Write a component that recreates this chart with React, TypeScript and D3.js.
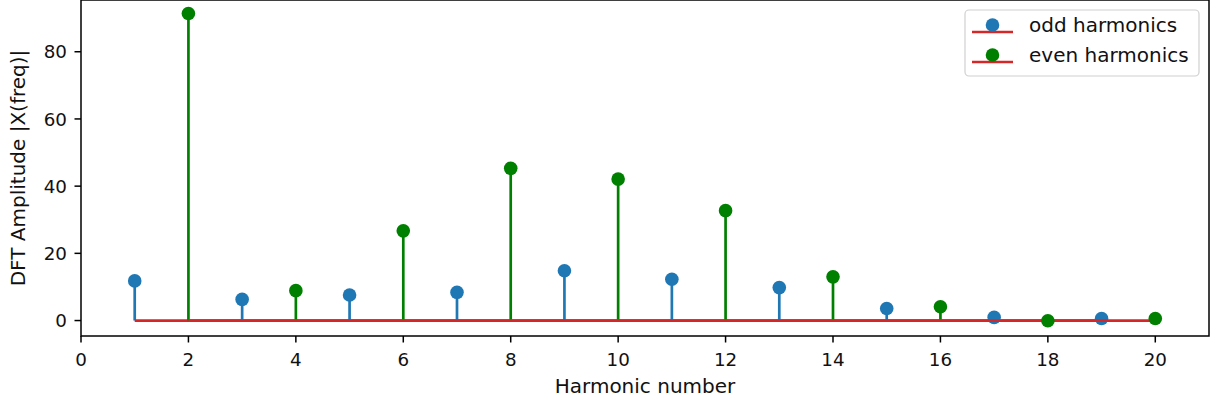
import React from "react";
import * as d3 from "d3";

const oddHarmonics = [1, 3, 5, 7, 9, 11, 13, 15, 17, 19];
const oddValues = [11.8, 6.3, 7.6, 8.4, 14.8, 12.3, 9.8, 3.6, 0.95, 0.6];
const evenHarmonics = [2, 4, 6, 8, 10, 12, 14, 16, 18, 20];
const evenValues = [91.4, 8.9, 26.7, 45.3, 42.1, 32.7, 13.0, 4.1, -0.05, 0.6];
const xTicks = [0, 2, 4, 6, 8, 10, 12, 14, 16, 18, 20];
const yTicks = [0, 20, 40, 60, 80];
const seriesNames = ["odd harmonics", "even harmonics"];

const W = 1214;
const H = 405;
const left = 81;
const right = 1209;
const top = 0;
const bottom = 336;

const BLUE = "#1f77b4";
const GREEN = "#008000";
const RED = "#d62728";
const TEXT = "#111";
const FONT = "'DejaVu Sans', sans-serif";

export default function App() {
  const x = d3.scaleLinear().domain([0, 21]).range([left, right]);
  const y = d3.scaleLinear().domain([-4.6, 95.4]).range([bottom, top]);

  const stemGroup = (xs: number[], vs: number[], color: string) => {
    const pts = xs.map((h, i) => [h, vs[i]] as [number, number]);
    const baseline = d3.line()([
      [x(xs[0]), y(0)],
      [x(xs[xs.length - 1]), y(0)],
    ]);
    return (
      <g>
        {pts.map(([h, v], i) => (
          <line key={"s" + i} x1={x(h)} x2={x(h)} y1={y(0)} y2={y(v)} stroke={color} strokeWidth={2.7} />
        ))}
        <path d={baseline || ""} stroke={RED} strokeWidth={2.7} fill="none" />
        {pts.map(([h, v], i) => (
          <circle key={"m" + i} cx={x(h)} cy={y(v)} r={6.8} fill={color} />
        ))}
      </g>
    );
  };

  const legendColors = [BLUE, GREEN];

  return (
    <svg width={W} height={H} style={{ position: "absolute", left: 0, top: 0 }} fontFamily={FONT}>
      <rect x={0} y={0} width={W} height={H} fill="#fff" />
      <defs>
        <clipPath id="plotclip">
          <rect x={left} y={top} width={right - left} height={bottom - top} />
        </clipPath>
      </defs>
      <g clipPath="url(#plotclip)">
        {stemGroup(oddHarmonics, oddValues, BLUE)}
        {stemGroup(evenHarmonics, evenValues, GREEN)}
      </g>
      <rect x={left} y={top} width={right - left} height={bottom - top} fill="none" stroke="#000" strokeWidth={1.5} />
      {xTicks.map((t) => (
        <g key={"xt" + t}>
          <line x1={x(t)} x2={x(t)} y1={bottom} y2={bottom + 6.5} stroke="#000" strokeWidth={1.5} />
          <text x={x(t)} y={366} textAnchor="middle" fontSize={18.3} fill={TEXT}>
            {t}
          </text>
        </g>
      ))}
      {yTicks.map((t) => (
        <g key={"yt" + t}>
          <line x1={left - 6.5} x2={left} y1={y(t)} y2={y(t)} stroke="#000" strokeWidth={1.5} />
          <text x={67} y={y(t)} dy="0.36em" textAnchor="end" fontSize={18.3} fill={TEXT}>
            {t}
          </text>
        </g>
      ))}
      <text x={(left + right) / 2} y={393} textAnchor="middle" fontSize={20} fill={TEXT}>
        Harmonic number
      </text>
      <text
        transform={`translate(25,${(top + bottom) / 2}) rotate(-90)`}
        textAnchor="middle"
        fontSize={20}
        fill={TEXT}
      >
        DFT Amplitude |X(freq)|
      </text>
      <g>
        <rect x={965} y={10} width={234} height={66} rx={4} fill="#fff" fillOpacity={0.8} stroke="#d0d0d0" strokeWidth={1.2} />
        {seriesNames.map((name, i) => {
          const ly = 32 + i * 30;
          return (
            <g key={name}>
              <line x1={992.5} x2={992.5} y1={ly} y2={ly - 7} stroke={legendColors[i]} strokeWidth={2.7} />
              <line x1={972} x2={1013} y1={ly} y2={ly} stroke={RED} strokeWidth={2.7} />
              <circle cx={992.5} cy={ly - 7} r={6.8} fill={legendColors[i]} />
              <text x={1029} y={ly} fontSize={20} fill={TEXT}>
                {name}
              </text>
            </g>
          );
        })}
      </g>
    </svg>
  );
}
